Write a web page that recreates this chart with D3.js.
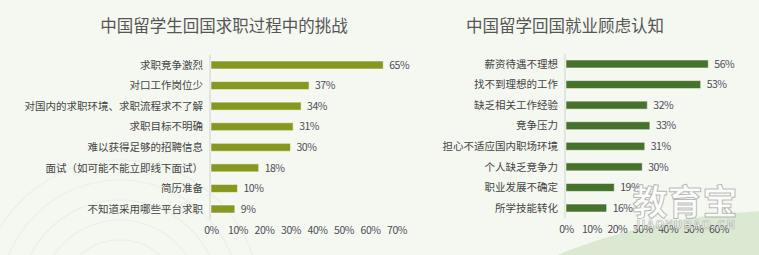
<!DOCTYPE html>
<html>
<head>
<meta charset="utf-8">
<script src="https://cdn.jsdelivr.net/npm/d3@7"></script>
<style>
  body { margin: 0; background: #f5f8f1; }
  svg { display: block; font-family: "Noto Sans CJK SC", "Noto Sans", sans-serif; }
</style>
</head>
<body>
<div id="chart"></div>
<script>
const leftTitle = "中国留学生回国求职过程中的挑战";
const leftCategories = ["求职竞争激烈", "对口工作岗位少", "对国内的求职环境、求职流程求不了解", "求职目标不明确",
  "难以获得足够的招聘信息", "面试（如可能不能立即线下面试）", "简历准备", "不知道采用哪些平台求职"];
const leftValues = [65, 37, 34, 31, 30, 18, 10, 9];
const leftTicks = [0, 10, 20, 30, 40, 50, 60, 70];

const rightTitle = "中国留学回国就业顾虑认知";
const rightCategories = ["薪资待遇不理想", "找不到理想的工作", "缺乏相关工作经验", "竞争压力",
  "担心不适应国内职场环境", "个人缺乏竞争力", "职业发展不确定", "所学技能转化"];
const rightValues = [56, 53, 32, 33, 31, 30, 19, 16];
const rightTicks = [0, 10, 20, 30, 40, 50, 60];

const W = 759, H = 255;
const svg = d3.select("#chart").append("svg").attr("width", W).attr("height", H);

svg.append("rect").attr("width", W).attr("height", H).attr("fill", "#f5f8f1");

// faint rings in the background
[40, 60, 80, 100, 120, 140].forEach(r => {
  svg.append("circle")
    .attr("cx", 120).attr("cy", 300).attr("r", r)
    .attr("fill", "none").attr("stroke", "#edf0e8").attr("stroke-width", 1.5);
});

// green hill bottom right
svg.append("ellipse")
  .attr("cx", 800).attr("cy", 430).attr("rx", 400).attr("ry", 220)
  .attr("fill", "#dce9d2");

function drawChart(title, titleX, cats, vals, ticks, xRange, yRange, color) {
  const x = d3.scaleLinear().domain([0, ticks[ticks.length - 1]]).range(xRange);
  const y = d3.scaleBand().domain(cats).range(yRange);
  const g = svg.append("g");

  g.append("text")
    .attr("x", titleX).attr("y", 32)
    .attr("text-anchor", "middle")
    .attr("font-size", 16.5)
    .attr("fill", "#555")
    .text(title);

  g.append("line")
    .attr("x1", xRange[0] - 1).attr("x2", xRange[0] - 1)
    .attr("y1", yRange[0]).attr("y2", yRange[1])
    .attr("stroke", "#dddddd").attr("stroke-width", 1.5);

  const barH = 8;
  g.selectAll(".bar")
    .data(vals)
    .join("rect")
    .attr("x", x(0))
    .attr("y", (d, i) => y(cats[i]) + y.bandwidth() / 2 - barH / 2)
    .attr("width", d => x(d) - x(0))
    .attr("height", barH)
    .attr("fill", color)
    .attr("stroke", "rgba(255,255,255,0.55)")
    .attr("stroke-width", 1);

  g.selectAll(".cat")
    .data(cats)
    .join("text")
    .attr("x", xRange[0] - 8)
    .attr("y", d => y(d) + y.bandwidth() / 2)
    .attr("dy", "0.35em")
    .attr("text-anchor", "end")
    .attr("font-size", 10.5)
    .attr("fill", "#444")
    .text(d => d);

  g.selectAll(".val")
    .data(vals)
    .join("text")
    .attr("x", d => x(d) + 6)
    .attr("y", (d, i) => y(cats[i]) + y.bandwidth() / 2)
    .attr("dy", "0.35em")
    .attr("font-size", 10.5)
    .attr("fill", "#4d4b58")
    .attr("letter-spacing", -0.5)
    .text(d => d + "%");

  const axis = g.append("g")
    .attr("transform", `translate(0, ${yRange[1] + 4.5})`)
    .call(d3.axisBottom(x).tickValues(ticks).tickSize(0).tickFormat(d => d + "%"));
  axis.select(".domain").remove();
  axis.selectAll("text")
    .attr("font-family", "\"Noto Sans CJK SC\", \"Noto Sans\", sans-serif")
    .attr("font-size", 10.5)
    .attr("fill", "#4d4b58")
    .attr("letter-spacing", -0.5);
}

drawChart(leftTitle, 224, leftCategories, leftValues, leftTicks, [211, 396.5], [54.7, 219.3], "#86981f");
drawChart(rightTitle, 565, rightCategories, rightValues, rightTicks, [566, 718.5], [53.7, 218.3], "#47722b");

// watermark
svg.append("text")
  .attr("x", 685).attr("y", 215)
  .attr("text-anchor", "middle")
  .attr("font-size", 35).attr("font-weight", "bold")
  .attr("fill", "rgba(255,255,255,0.8)")
  .attr("stroke", "rgba(140,140,140,0.6)").attr("stroke-width", 1)
  .text("教育宝");
svg.append("text")
  .attr("x", 685).attr("y", 229)
  .attr("text-anchor", "middle")
  .attr("font-size", 11.5).attr("font-weight", "bold")
  .attr("letter-spacing", 1.5)
  .attr("fill", "rgba(255,255,255,0.8)")
  .attr("stroke", "rgba(140,140,140,0.6)").attr("stroke-width", 0.7)
  .text("JIAOYUBAO.CN");
</script>
</body>
</html>
